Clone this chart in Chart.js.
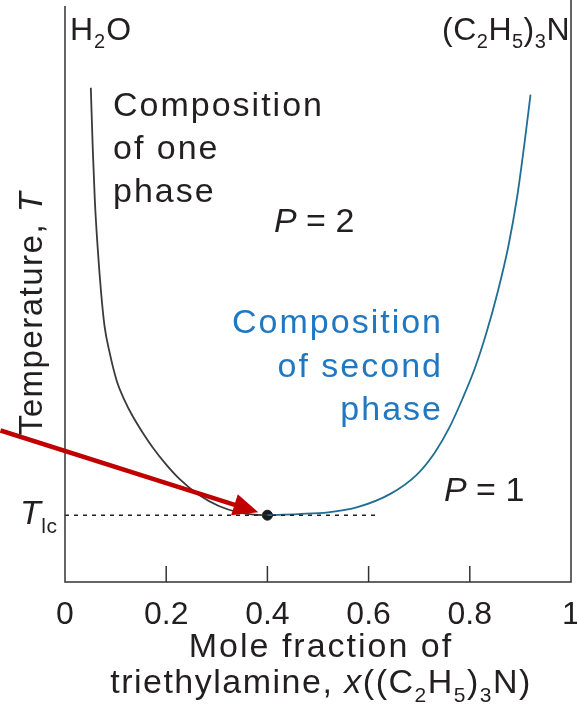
<!DOCTYPE html>
<html>
<head>
<meta charset="utf-8">
<script src="https://cdn.jsdelivr.net/npm/chart.js@4"></script>
<style>
  body { margin: 0; background: #fff; }
  canvas { display: block; }
</style>
</head>
<body>
<canvas id="chart" width="577" height="708"></canvas>
<script>
// liquid-liquid phase diagram, water / triethylamine
// T is in arbitrary units (0 = bottom of the plot, 100 = top)

const xTicks = [0, 0.2, 0.4, 0.6, 0.8, 1];

// composition of one phase (water rich side)
const oneX = [0.051, 0.055, 0.059, 0.065, 0.071, 0.078, 0.088, 0.102, 0.118, 0.133, 0.153, 0.173, 0.198, 0.225, 0.265, 0.304, 0.343, 0.373, 0.400];
const oneT = [85.8, 74.9, 66.2, 57.5, 50.6, 44.5, 39.9, 35.0, 31.5, 28.9, 26.0, 23.4, 20.6, 18.0, 15.1, 13.2, 12.1, 11.7, 11.6];

// composition of second phase (amine rich side)
const twoX = [0.400, 0.461, 0.520, 0.578, 0.643, 0.696, 0.731, 0.759, 0.786, 0.810, 0.833, 0.855, 0.876, 0.894, 0.908, 0.920];
const twoT = [11.6, 11.8, 12.1, 13.0, 15.3, 18.7, 22.5, 26.7, 31.9, 37.1, 43.3, 50.3, 58.2, 67.1, 76.1, 84.6];

// lower critical temperature
const xLc = 0.400;
const tLc = 11.6;
const lcLineEnd = 0.618;

// red arrow pointing at the critical point
const arrowFrom = [-0.1275, 26.3];
const arrowTo = [0.382, 12.1];

const FONT = '"Liberation Sans", Arial, sans-serif';
const INK = '#231f20';
const BLUE_TXT = '#1f78c1';
const BLUE_LINE = '#216e93';

function pts(xs, ys) {
    return xs.map((x, i) => ({ x: x, y: ys[i] }));
}

// draws text made of pieces: {t, sub, it}
function rich(ctx, parts, x, y, size, align, spacing) {
    ctx.save();
    ctx.letterSpacing = (spacing === undefined ? 2 : spacing) + 'px';
    const subSize = Math.round(size * 0.62);
    const fontOf = p => (p.it ? 'italic ' : '') + (p.sub ? subSize : size) + 'px ' + FONT;
    let w = 0;
    parts.forEach(p => { ctx.font = fontOf(p); w += ctx.measureText(p.t).width; });
    let cx = x;
    if (align === 'center') cx = x - w / 2;
    if (align === 'right') cx = x - w;
    ctx.textAlign = 'left';
    ctx.textBaseline = 'alphabetic';
    parts.forEach(p => {
        ctx.font = fontOf(p);
        ctx.fillText(p.t, cx, p.sub ? y + size * 0.25 : y);
        cx += ctx.measureText(p.t).width;
    });
    ctx.restore();
}

const extras = {
    id: 'extras',
    afterDatasetsDraw(c) {
        const ctx = c.ctx;
        const xs = c.scales.x, ys = c.scales.y;
        const a = c.chartArea;

        // frame: left, bottom and right
        ctx.save();
        ctx.strokeStyle = '#333';
        ctx.lineWidth = 1.5;
        ctx.beginPath();
        ctx.moveTo(a.left, a.top);
        ctx.lineTo(a.left, a.bottom);
        ctx.lineTo(a.right, a.bottom);
        ctx.lineTo(a.right, 0);
        ctx.stroke();

        // inner tick marks
        xTicks.forEach(v => {
            if (v === 0 || v === 1) return;
            const px = xs.getPixelForValue(v);
            ctx.beginPath();
            ctx.moveTo(px, a.bottom);
            ctx.lineTo(px, a.bottom - 16);
            ctx.stroke();
        });
        ctx.restore();

        // arrow
        const x0 = xs.getPixelForValue(arrowFrom[0]), y0 = ys.getPixelForValue(arrowFrom[1]);
        const x1 = xs.getPixelForValue(arrowTo[0]), y1 = ys.getPixelForValue(arrowTo[1]);
        const ang = Math.atan2(y1 - y0, x1 - x0);
        const hl = 25, hw = 11;
        const bx = x1 - hl * Math.cos(ang), by = y1 - hl * Math.sin(ang);
        ctx.save();
        ctx.strokeStyle = '#c00000';
        ctx.fillStyle = '#c00000';
        ctx.lineWidth = 4.5;
        ctx.beginPath();
        ctx.moveTo(x0, y0);
        ctx.lineTo(bx + 2 * Math.cos(ang), by + 2 * Math.sin(ang));
        ctx.stroke();
        ctx.beginPath();
        ctx.moveTo(x1, y1);
        ctx.lineTo(bx + hw * Math.sin(ang), by - hw * Math.cos(ang));
        ctx.lineTo(bx - hw * Math.sin(ang), by + hw * Math.cos(ang));
        ctx.closePath();
        ctx.fill();
        ctx.restore();

        // labels
        ctx.save();
        ctx.fillStyle = INK;
        rich(ctx, [{ t: 'H' }, { t: '2', sub: true }, { t: 'O' }], 70, 40, 32, 'left', 1);
        rich(ctx, [{ t: '(C' }, { t: '2', sub: true }, { t: 'H' }, { t: '5', sub: true }, { t: ')' }, { t: '3', sub: true }, { t: 'N' }], 570, 40, 32, 'right', 0.5);

        rich(ctx, [{ t: 'Composition' }], 113, 116, 34);
        rich(ctx, [{ t: 'of one' }], 113, 159, 34);
        rich(ctx, [{ t: 'phase' }], 113, 202, 34);
        rich(ctx, [{ t: 'P', it: true }, { t: ' = 2' }], 274, 232, 34, 'left', 0);
        rich(ctx, [{ t: 'P', it: true }, { t: ' = 1' }], 444, 501, 34, 'left', 0);

        ctx.fillStyle = BLUE_TXT;
        rich(ctx, [{ t: 'Composition' }], 443, 333, 34, 'right');
        rich(ctx, [{ t: 'of second' }], 443, 377, 34, 'right');
        rich(ctx, [{ t: 'phase' }], 443, 420, 34, 'right');

        ctx.fillStyle = INK;
        rich(ctx, [{ t: 'T', it: true }, { t: 'lc', sub: true }], 20, 524, 34, 'left', 0.5);

        // axis titles
        rich(ctx, [{ t: 'Mole fraction of' }], 321, 657, 34, 'center');
        rich(ctx, [{ t: 'triethylamine, ' }, { t: 'x', it: true }, { t: '((C' }, { t: '2', sub: true }, { t: 'H' }, { t: '5', sub: true }, { t: ')' }, { t: '3', sub: true }, { t: 'N)' }], 321, 693, 34, 'center', 1.5);

        ctx.translate(42, 313);
        ctx.rotate(-Math.PI / 2);
        rich(ctx, [{ t: 'Temperature, ' }, { t: 'T', it: true }], 0, 0, 33, 'center', 1.5);
        ctx.restore();
    }
};

new Chart(document.querySelector('#chart').getContext('2d'), {
    type: 'scatter',
    data: {
        datasets: [
            {
                data: pts([0, lcLineEnd], [tLc, tLc]),
                showLine: true,
                borderColor: '#222',
                borderWidth: 1.5,
                borderDash: [4, 5],
                pointRadius: 0
            },
            {
                data: pts(oneX, oneT),
                showLine: true,
                borderColor: '#3a3a3a',
                borderWidth: 1.8,
                cubicInterpolationMode: 'monotone',
                pointRadius: 0
            },
            {
                data: pts(twoX, twoT),
                showLine: true,
                borderColor: BLUE_LINE,
                borderWidth: 1.8,
                cubicInterpolationMode: 'monotone',
                pointRadius: 0
            },
            {
                data: [{ x: xLc, y: tLc }],
                pointRadius: 5,
                backgroundColor: '#1a1a1a',
                borderColor: '#1a1a1a'
            }
        ]
    },
    options: {
        responsive: false,
        animation: false,
        devicePixelRatio: 1,
        layout: { padding: { top: 5, right: 2, left: 0, bottom: 0 } },
        plugins: {
            legend: { display: false },
            tooltip: { enabled: false }
        },
        scales: {
            x: {
                type: 'linear',
                min: 0,
                max: 1,
                grid: { display: false },
                border: { display: false },
                afterBuildTicks: s => { s.ticks = xTicks.map(v => ({ value: v })); },
                afterFit: s => { s.height = 126; s.paddingLeft = 0; s.paddingRight = 0; },
                ticks: {
                    color: INK,
                    padding: 6,
                    maxRotation: 0,
                    autoSkip: false,
                    font: { family: FONT, size: 32 },
                    callback: v => String(v)
                }
            },
            y: {
                min: 0,
                max: 100,
                grid: { display: false },
                border: { display: false },
                ticks: { display: false },
                afterFit: s => { s.width = 65; }
            }
        }
    },
    plugins: [extras]
});
</script>
</body>
</html>
